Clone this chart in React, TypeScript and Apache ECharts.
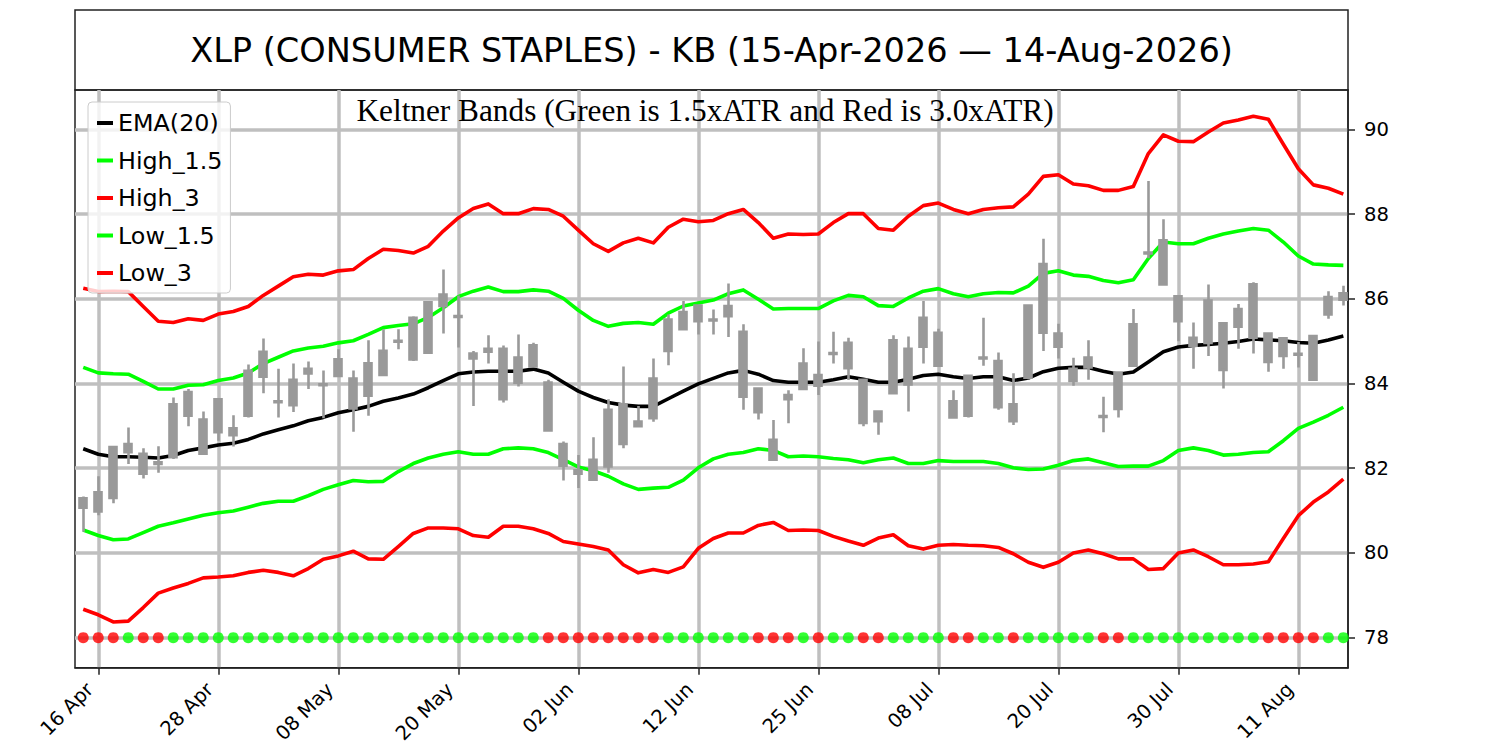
import React, { useEffect, useRef } from "react";
import * as echarts from "echarts";

const dates = [
  "15 Apr", "16 Apr", "17 Apr", "20 Apr", "21 Apr", "22 Apr", "23 Apr", "24 Apr", "27 Apr", "28 Apr",
  "29 Apr", "30 Apr", "01 May", "04 May", "05 May", "06 May", "07 May", "08 May", "11 May", "12 May",
  "13 May", "14 May", "15 May", "18 May", "19 May", "20 May", "21 May", "22 May", "26 May", "27 May",
  "28 May", "29 May", "01 Jun", "02 Jun", "03 Jun", "04 Jun", "05 Jun", "08 Jun", "09 Jun", "10 Jun",
  "11 Jun", "12 Jun", "15 Jun", "16 Jun", "17 Jun", "18 Jun", "22 Jun", "23 Jun", "24 Jun", "25 Jun",
  "26 Jun", "29 Jun", "30 Jun", "01 Jul", "02 Jul", "06 Jul", "07 Jul", "08 Jul", "09 Jul", "10 Jul",
  "13 Jul", "14 Jul", "15 Jul", "16 Jul", "17 Jul", "20 Jul", "21 Jul", "22 Jul", "23 Jul", "24 Jul",
  "27 Jul", "28 Jul", "29 Jul", "30 Jul", "31 Jul", "03 Aug", "04 Aug", "05 Aug", "06 Aug", "07 Aug",
  "10 Aug", "11 Aug", "12 Aug", "13 Aug", "14 Aug",
];

const xTickIndex = [1, 9, 17, 25, 33, 41, 49, 57, 65, 73, 81];
const yTicks = [78, 80, 82, 84, 86, 88, 90];

const ema20 = [
  82.46, 82.33, 82.27, 82.27, 82.26, 82.24, 82.30, 82.42, 82.48, 82.55,
  82.59, 82.68, 82.81, 82.91, 83.00, 83.12, 83.20, 83.31, 83.38, 83.46,
  83.58, 83.66, 83.75, 83.90, 84.07, 84.23, 84.27, 84.29, 84.29, 84.29,
  84.34, 84.25, 84.03, 83.82, 83.67, 83.55, 83.49, 83.46, 83.46, 83.64,
  83.82, 83.99, 84.12, 84.25, 84.31, 84.22, 84.07, 84.03, 84.03, 84.03,
  84.09, 84.16, 84.10, 84.03, 84.03, 84.10, 84.19, 84.22, 84.16, 84.12,
  84.16, 84.16, 84.07, 84.13, 84.28, 84.36, 84.38, 84.38, 84.29, 84.22,
  84.27, 84.51, 84.75, 84.86, 84.90, 84.92, 84.95, 84.99, 85.05, 85.03,
  85.01, 84.97, 84.95, 85.03, 85.12,
];

const high15 = [
  84.38, 84.25, 84.23, 84.22, 84.05, 83.87, 83.87, 83.96, 83.97, 84.07,
  84.13, 84.25, 84.47, 84.62, 84.77, 84.84, 84.88, 84.96, 85.01, 85.16,
  85.32, 85.37, 85.41, 85.56, 85.79, 86.05, 86.18, 86.28, 86.17, 86.17,
  86.21, 86.18, 86.01, 85.73, 85.49, 85.35, 85.42, 85.44, 85.40, 85.66,
  85.83, 85.90, 85.97, 86.12, 86.21, 85.99, 85.76, 85.77, 85.77, 85.77,
  85.95, 86.08, 86.05, 85.84, 85.82, 86.02, 86.18, 86.24, 86.12, 86.05,
  86.12, 86.15, 86.14, 86.30, 86.60, 86.66, 86.56, 86.53, 86.43, 86.38,
  86.45, 86.95, 87.34, 87.30, 87.30, 87.43, 87.53, 87.60, 87.66, 87.62,
  87.34, 87.01, 86.82, 86.80, 86.79,
];

const high3 = [
  86.25, 86.17, 86.18, 86.17, 85.82, 85.47, 85.44, 85.53, 85.49, 85.64,
  85.70, 85.82, 86.08, 86.30, 86.52, 86.58, 86.56, 86.66, 86.69, 86.95,
  87.17, 87.14, 87.08, 87.24, 87.60, 87.91, 88.13, 88.24, 88.01, 88.01,
  88.13, 88.11, 87.95, 87.62, 87.30, 87.12, 87.32, 87.43, 87.32, 87.69,
  87.88, 87.82, 87.85, 88.01, 88.11, 87.80, 87.43, 87.53, 87.52, 87.53,
  87.80, 88.01, 88.01, 87.66, 87.62, 87.95, 88.20, 88.26, 88.11, 88.01,
  88.11, 88.15, 88.17, 88.47, 88.89, 88.93, 88.71, 88.67, 88.56, 88.56,
  88.65, 89.43, 89.87, 89.72, 89.71, 89.94, 90.15, 90.22, 90.31, 90.24,
  89.65, 89.07, 88.69, 88.61, 88.47,
];

const low15 = [
  80.54, 80.41, 80.31, 80.33, 80.48, 80.63, 80.71, 80.80, 80.89, 80.95,
  80.99, 81.08, 81.17, 81.22, 81.22, 81.35, 81.50, 81.61, 81.71, 81.68,
  81.69, 81.92, 82.11, 82.24, 82.33, 82.39, 82.33, 82.33, 82.46, 82.48,
  82.46, 82.37, 82.20, 82.03, 81.94, 81.81, 81.63, 81.50, 81.53, 81.55,
  81.72, 82.01, 82.22, 82.33, 82.37, 82.46, 82.42, 82.27, 82.29, 82.27,
  82.23, 82.20, 82.13, 82.20, 82.24, 82.11, 82.11, 82.18, 82.16, 82.16,
  82.16, 82.11, 82.01, 81.97, 81.98, 82.07, 82.18, 82.22, 82.13, 82.04,
  82.05, 82.05, 82.18, 82.42, 82.48, 82.42, 82.31, 82.33, 82.37, 82.39,
  82.65, 82.94, 83.09, 83.25, 83.44,
];

const low3 = [
  78.67, 78.54, 78.37, 78.39, 78.71, 79.05, 79.17, 79.28, 79.41, 79.43,
  79.46, 79.54, 79.59, 79.54, 79.46, 79.63, 79.85, 79.93, 80.04, 79.86,
  79.85, 80.15, 80.46, 80.59, 80.59, 80.57, 80.41, 80.37, 80.63, 80.63,
  80.57, 80.46, 80.27, 80.21, 80.15, 80.07, 79.72, 79.53, 79.61, 79.54,
  79.67, 80.11, 80.34, 80.47, 80.47, 80.65, 80.72, 80.53, 80.54, 80.53,
  80.39, 80.28, 80.18, 80.35, 80.43, 80.17, 80.09, 80.18, 80.20, 80.18,
  80.17, 80.13, 79.98, 79.78, 79.66, 79.78, 80.00, 80.07, 79.98, 79.86,
  79.86, 79.61, 79.63, 80.00, 80.07, 79.91, 79.72, 79.72, 79.74, 79.79,
  80.34, 80.88, 81.20, 81.44, 81.74,
];

// candle bodies (open / close) and wicks (low / high)
const open = [
  81.07, 80.98, 81.30, 82.38, 82.34, 82.14, 82.26, 83.80, 83.15, 82.85,
  82.94, 83.24, 84.16, 83.58, 83.49, 84.24, 83.98, 84.18, 84.12, 83.71,
  84.20, 85.01, 84.57, 84.73, 85.83, 85.59, 84.71, 84.75, 84.82, 84.02,
  84.40, 84.02, 82.57, 81.95, 81.73, 82.04, 82.57, 83.10, 83.18, 84.77,
  85.28, 85.47, 85.51, 85.59, 85.22, 83.88, 82.67, 83.63, 83.87, 83.95,
  84.72, 84.36, 84.09, 83.34, 83.77, 84.82, 84.87, 85.20, 83.58, 83.24,
  84.61, 84.53, 83.51, 84.14, 85.20, 85.18, 84.35, 84.38, 83.23, 83.40,
  84.42, 87.09, 86.34, 86.06, 85.08, 84.96, 85.42, 85.34, 85.08, 85.18,
  85.07, 84.70, 84.09, 85.63, 85.98,
];
const close = [
  81.29, 81.43, 82.50, 82.57, 81.87, 82.10, 83.51, 83.24, 82.34, 83.63,
  82.78, 84.30, 84.75, 83.56, 84.09, 84.35, 83.96, 84.57, 83.41, 84.48,
  84.77, 84.99, 85.55, 85.92, 86.10, 85.57, 84.59, 84.82, 83.63, 84.61,
  84.90, 82.89, 82.06, 81.87, 82.20, 83.38, 83.51, 82.99, 84.12, 85.51,
  85.69, 85.84, 85.49, 85.83, 83.69, 83.32, 82.20, 83.73, 84.47, 84.20,
  84.70, 84.96, 83.07, 83.11, 85.02, 83.98, 85.55, 84.42, 83.20, 84.18,
  84.59, 83.44, 83.11, 85.84, 86.82, 84.87, 84.06, 84.61, 83.21, 84.26,
  85.40, 87.07, 87.38, 85.47, 84.89, 85.96, 84.32, 85.76, 86.34, 84.51,
  84.65, 84.68, 85.12, 86.04, 86.13,
];
const low = [
  80.50, 80.89, 81.17, 82.10, 81.76, 81.89, 82.22, 82.99, 82.31, 82.65,
  82.51, 83.20, 83.77, 83.20, 83.33, 83.87, 83.18, 84.18, 82.86, 83.24,
  84.18, 84.81, 84.53, 84.71, 85.18, 84.85, 83.47, 84.47, 83.55, 83.93,
  84.40, 82.86, 81.71, 81.53, 81.71, 81.89, 82.47, 82.99, 83.10, 84.43,
  85.28, 85.16, 85.16, 85.10, 83.38, 83.15, 82.20, 83.06, 83.85, 83.73,
  84.47, 84.08, 82.99, 82.79, 83.77, 83.34, 84.47, 84.40, 83.18, 83.20,
  84.42, 83.38, 83.02, 84.10, 84.77, 84.59, 83.95, 84.09, 82.85, 83.20,
  84.42, 86.96, 86.34, 85.00, 84.35, 84.65, 83.88, 84.82, 84.71, 84.28,
  84.35, 84.38, 84.06, 85.53, 85.84,
];
const high = [
  81.33, 81.81, 82.52, 82.96, 82.47, 82.52, 83.67, 83.87, 83.34, 83.65,
  83.25, 84.45, 85.06, 84.35, 84.47, 84.52, 84.31, 84.81, 84.31, 85.02,
  85.28, 85.28, 85.59, 85.94, 86.69, 86.08, 84.77, 85.14, 84.90, 85.16,
  84.96, 84.09, 82.63, 82.31, 82.73, 83.63, 84.40, 83.47, 84.59, 85.63,
  85.95, 85.87, 85.75, 86.36, 85.40, 83.91, 83.14, 83.84, 84.83, 84.99,
  85.22, 85.08, 84.10, 83.34, 85.14, 85.11, 85.95, 85.29, 83.84, 84.18,
  85.55, 84.73, 84.24, 85.84, 87.42, 85.41, 84.61, 85.02, 83.69, 84.27,
  85.76, 88.78, 87.88, 86.08, 85.44, 86.34, 85.44, 85.88, 86.39, 85.20,
  85.08, 84.98, 85.14, 86.18, 86.31,
];

// daily signal dots along the 78 line
const signal = [
  "R", "R", "R", "G", "R", "R", "G", "G", "G", "G",
  "G", "G", "G", "G", "G", "G", "G", "G", "G", "G",
  "G", "G", "G", "G", "G", "G", "G", "G", "G", "G",
  "G", "R", "R", "R", "R", "R", "R", "R", "R", "G",
  "G", "G", "G", "G", "G", "R", "R", "R", "G", "R",
  "G", "G", "R", "R", "G", "G", "G", "G", "R", "R",
  "G", "G", "R", "G", "G", "G", "G", "G", "R", "R",
  "G", "G", "G", "G", "G", "G", "G", "G", "G", "R",
  "R", "R", "R", "G", "G",
];
const signalLevel = 78;

const TITLE = "XLP (CONSUMER STAPLES) - KB (15-Apr-2026 \u2014 14-Aug-2026)";
const SUBTITLE = "Keltner Bands (Green is 1.5xATR and Red is 3.0xATR)";

const LIME = "#00ff00";
const RED = "#ff0000";
const GRAY = "#999999";
const GRID = "#bfbfbf";
const SANS = "DejaVu Sans";

export default function App() {
  const ref = useRef<HTMLDivElement>(null);

  useEffect(() => {
    if (!ref.current) return;
    const chart = echarts.init(ref.current, null, { renderer: "svg" });

    const pairs = (arr: number[]) => arr.map((v, i) => [i, v]);
    const line = (name: string, data: number[], color: string) => ({
      name,
      type: "line",
      data: pairs(data),
      showSymbol: false,
      symbol: "none",
      silent: true,
      z: 2,
      lineStyle: { width: 3.6, color, cap: "butt", join: "round" },
      itemStyle: { color },
    });

    const candles = dates.map((_, i) => [i, open[i], close[i], low[i], high[i]]);
    const dots = signal.map((s, i) => ({
      value: [i, signalLevel],
      itemStyle: { color: s === "R" ? RED : LIME },
    }));

    chart.setOption({
      animation: false,
      grid: {
        left: 75,
        right: 152,
        top: 90,
        bottom: 82.3,
        show: true,
        borderColor: "#222",
        borderWidth: 1.5,
        backgroundColor: "transparent",
      },
      xAxis: {
        type: "value",
        min: -0.55,
        max: 84.31,
        axisLine: { show: true, onZero: false, lineStyle: { color: "#222", width: 1.5 } },
        axisTick: {
          show: true,
          customValues: xTickIndex,
          length: 7,
          lineStyle: { color: "#222", width: 1.5 },
        },
        axisLabel: {
          customValues: xTickIndex,
          formatter: (v: number) => dates[Math.round(v)] ?? "",
          rotate: 45,
          margin: 10,
          padding: [0, 12, 0, 0],
          color: "#000",
          fontSize: 19.6,
          fontFamily: SANS,
        },
        splitLine: { show: true, lineStyle: { color: GRID, width: 3.5 } },
      },
      yAxis: {
        type: "value",
        position: "right",
        min: 77.29,
        max: 90.93,
        axisLine: { show: true, onZero: false, lineStyle: { color: "#222", width: 1.5 } },
        axisTick: {
          show: true,
          customValues: yTicks,
          length: 7,
          lineStyle: { color: "#222", width: 1.5 },
        },
        axisLabel: {
          customValues: yTicks,
          margin: 16,
          color: "#000",
          fontSize: 19.6,
          fontFamily: SANS,
        },
        splitLine: { show: true, lineStyle: { color: GRID, width: 3.5 } },
      },
      legend: {
        data: ["EMA(20)", "High_1.5", "High_3", "Low_1.5", "Low_3"],
        orient: "vertical",
        left: 88,
        top: 102,
        icon: "rect",
        itemWidth: 16,
        itemHeight: 4,
        itemGap: 13.5,
        padding: [9, 8, 8, 9],
        backgroundColor: "rgba(255,255,255,0.8)",
        borderColor: "#cccccc",
        borderWidth: 1,
        borderRadius: 4,
        selectedMode: false,
        textStyle: { fontSize: 23.8, fontFamily: SANS, color: "#000", lineHeight: 24 },
        z: 10,
      },
      graphic: [
        {
          type: "rect",
          shape: { x: 75, y: 10, width: 1273, height: 80 },
          style: { fill: "none", stroke: "#222", lineWidth: 1.5 },
          silent: true,
        },
        {
          type: "text",
          x: 711.5,
          y: 50,
          style: {
            text: TITLE,
            fill: "#000",
            fontSize: 33.6,
            fontFamily: SANS,
            textAlign: "center",
            textVerticalAlign: "middle",
          },
          silent: true,
        },
        {
          type: "text",
          x: 705,
          y: 110,
          z: 5,
          style: {
            text: SUBTITLE,
            fill: "#000",
            fontSize: 31.3,
            fontFamily: "Liberation Serif",
            textAlign: "center",
            textVerticalAlign: "middle",
          },
          silent: true,
        },
      ],
      series: [
        line("EMA(20)", ema20, "#000000"),
        line("High_1.5", high15, LIME),
        line("High_3", high3, RED),
        line("Low_1.5", low15, LIME),
        line("Low_3", low3, RED),
        {
          name: "candles",
          type: "candlestick",
          data: candles,
          barWidth: 7.5,
          silent: true,
          z: 3,
          itemStyle: {
            color: GRAY,
            color0: GRAY,
            borderColor: GRAY,
            borderColor0: GRAY,
            borderColorDoji: GRAY,
            borderWidth: 2.6,
          },
        },
        {
          name: "signal",
          type: "scatter",
          data: dots,
          symbolSize: 11,
          silent: true,
          z: 4,
        },
      ],
    });

    return () => chart.dispose();
  }, []);

  return (
    <div
      ref={ref}
      style={{ position: "fixed", left: 0, top: 0, width: 1500, height: 750, background: "#fff" }}
    />
  );
}
